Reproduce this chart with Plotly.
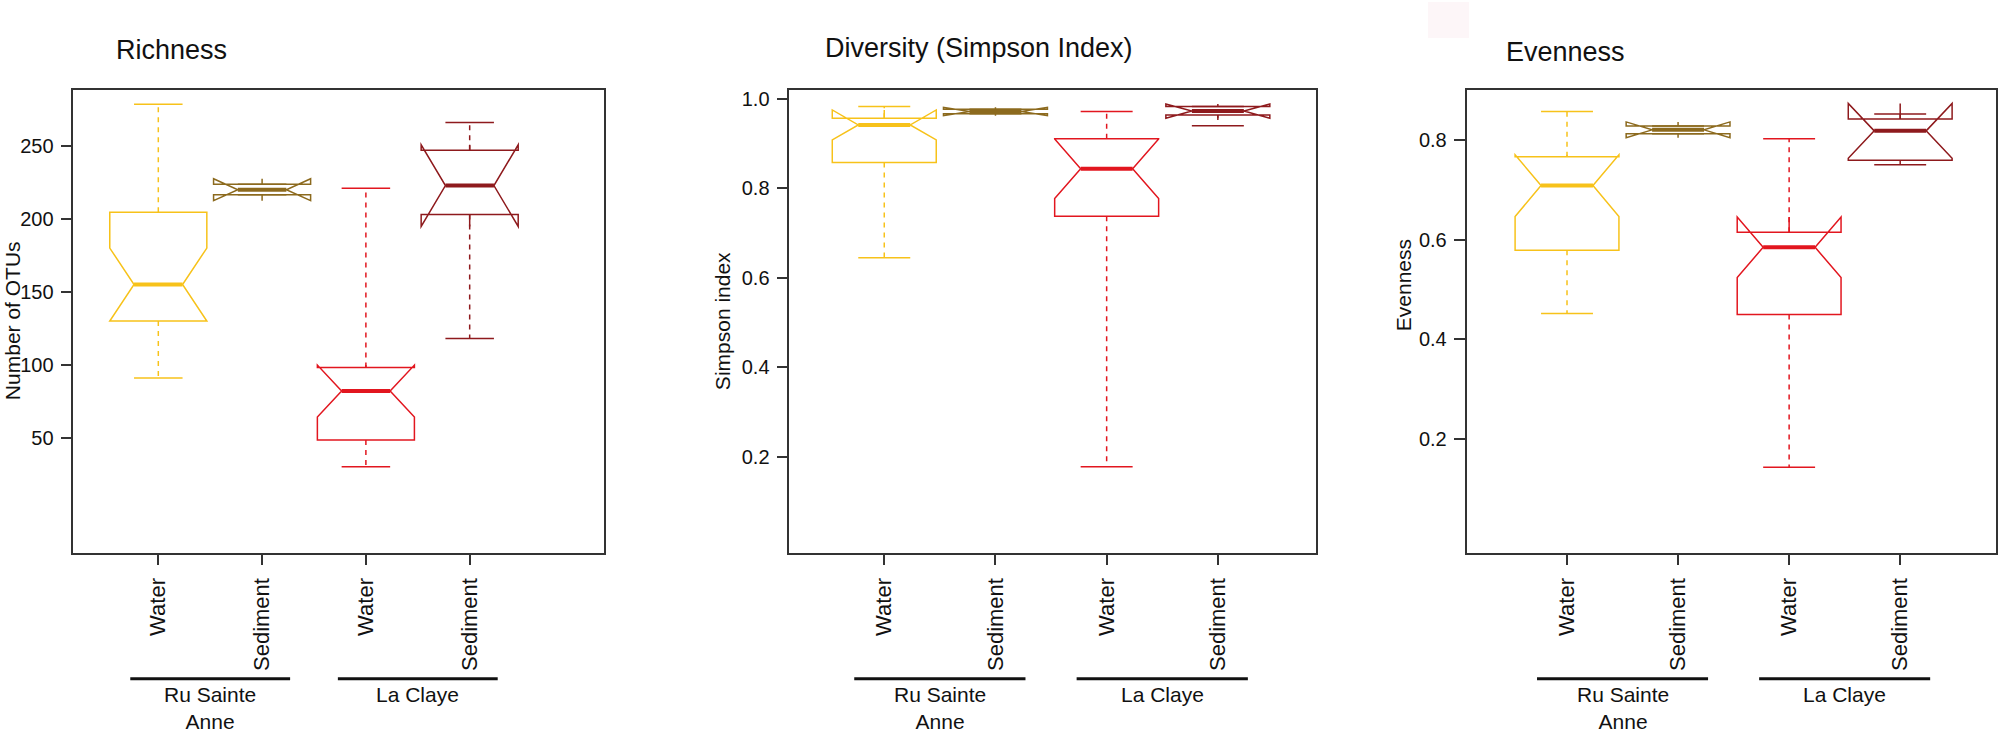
import plotly.graph_objects as go

# categories
samples = ["Water", "Sediment", "Water", "Sediment"]
sites = ["Ru Sainte<br>Anne", "La Claye"]
colors = ["#f7c21a", "#8c6a1e", "#e2161f", "#8e1a1d"]

# richness (number of OTUs)
rich_lo = [91, 216.5, 30, 118]
rich_q1 = [130, 216.5, 48.5, 203]
rich_med = [155, 220, 82, 222.8]
rich_q3 = [204.5, 223.7, 98.2, 247]
rich_hi = [278.5, 223.7, 221, 266]
rich_notch = [25, 7.5, 17.8, 28]

# diversity (simpson index)
simp_lo = [0.645, 0.967, 0.178, 0.940]
simp_q1 = [0.858, 0.967, 0.738, 0.964]
simp_med = [0.942, 0.972, 0.844, 0.973]
simp_q3 = [0.957, 0.977, 0.911, 0.983]
simp_hi = [0.983, 0.977, 0.972, 0.983]
simp_notch = [0.0335, 0.0093, 0.0665, 0.016]

# evenness
even_lo = [0.452, 0.813, 0.143, 0.751]
even_q1 = [0.579, 0.813, 0.450, 0.760]
even_med = [0.709, 0.821, 0.585, 0.819]
even_q3 = [0.767, 0.829, 0.615, 0.843]
even_hi = [0.858, 0.829, 0.803, 0.853]
even_notch = [0.062, 0.016, 0.061, 0.055]

W, H = 2002, 736
BOXW = 0.935
FONT = "Liberation Sans, Arial, sans-serif"


def px_x(v):
    return v / W


def px_y(v):
    return 1 - v / H


def add_boxes(fig, ax, lo, q1, med, q3, hi, notch):
    xa = "x" + ax
    ya = "y" + ax
    for i in range(len(samples)):
        c = colors[i]
        fig.add_trace(go.Box(
            x=[i], q1=[q1[i]], median=[med[i]], q3=[q3[i]],
            lowerfence=[q1[i]], upperfence=[q3[i]], notchspan=[notch[i]],
            notched=True, notchwidth=0.25, width=BOXW, whiskerwidth=0,
            line={"color": c, "width": 1.5}, fillcolor="rgba(0,0,0,0)",
            boxpoints=False, xaxis=xa, yaxis=ya, hoverinfo="skip"
        ))
        q = BOXW / 4
        # thick median
        fig.add_trace(go.Scatter(
            x=[i - q, i + q], y=[med[i], med[i]], mode="lines",
            line={"color": c, "width": 4}, xaxis=xa, yaxis=ya, hoverinfo="skip"
        ))
        # dashed whiskers
        fig.add_trace(go.Scatter(
            x=[i, i, None, i, i], y=[q3[i], hi[i], None, q1[i], lo[i]], mode="lines",
            line={"color": c, "width": 1.5, "dash": "5px,5px"},
            xaxis=xa, yaxis=ya, hoverinfo="skip"
        ))
        # whisker caps
        fig.add_trace(go.Scatter(
            x=[i - q, i + q, None, i - q, i + q],
            y=[hi[i], hi[i], None, lo[i], lo[i]], mode="lines",
            line={"color": c, "width": 1.5}, xaxis=xa, yaxis=ya, hoverinfo="skip"
        ))


fig = go.Figure()
add_boxes(fig, "", rich_lo, rich_q1, rich_med, rich_q3, rich_hi, rich_notch)
add_boxes(fig, "2", simp_lo, simp_q1, simp_med, simp_q3, simp_hi, simp_notch)
add_boxes(fig, "3", even_lo, even_q1, even_med, even_q3, even_hi, even_notch)

panels = [
    # axis suffix, left px, right px, x range, y range, y ticks, y fmt, title, title x, title y, ylabel, ylabel x, ylabel y
    ("", 73.3, 604.3, [-0.819, 4.297], [-28.7, 288.3], [50, 100, 150, 200, 250], "d",
     "Richness", 114, 48, "Number of OTUs", 12, 320),
    ("2", 789.3, 1315.7, [-0.854, 3.880], [-0.0138, 1.020], [0.2, 0.4, 0.6, 0.8, 1.0], ".1f",
     "Diversity (Simpson Index)", 822.7, 46, "Simpson index", 722, 320),
    ("3", 1466.5, 1995.7, [-0.905, 3.860], [-0.0285, 0.901], [0.2, 0.4, 0.6, 0.8], ".1f",
     "Evenness", 1504, 50, "Evenness", 1403, 284),
]

layout_axes = {}
annotations = []
shapes = []
for ax, left, right, xr, yr, yt, fmt, title, tx, ty, ylab, lx, ly in panels:
    layout_axes["xaxis" + ax] = dict(
        domain=[px_x(left), px_x(right)], range=xr, anchor="y" + ax,
        tickvals=list(range(len(samples))), ticktext=samples, tickangle=-90,
        ticks="outside", ticklen=11, tickwidth=1.5, tickcolor="#333",
        showline=True, linecolor="#333", linewidth=1.5, mirror=True,
        showgrid=False, zeroline=False, ticklabelstandoff=4,
        tickfont={"size": 22, "color": "#111", "family": FONT}
    )
    layout_axes["yaxis" + ax] = dict(
        domain=[px_y(552), px_y(88.3)], range=yr, anchor="x" + ax,
        tickvals=yt, tickformat=fmt,
        ticks="outside", ticklen=11, tickwidth=1.5, tickcolor="#333",
        showline=True, linecolor="#333", linewidth=1.5, mirror=True,
        showgrid=False, zeroline=False, ticklabelstandoff=3,
        tickfont={"size": 20, "color": "#111", "family": FONT}
    )
    annotations.append(dict(
        text=title, x=px_x(tx), y=px_y(ty), xref="paper", yref="paper",
        xanchor="left", yanchor="middle", showarrow=False,
        font={"size": 27, "color": "#111", "family": FONT}
    ))
    annotations.append(dict(
        text=ylab, x=px_x(lx), y=px_y(ly), xref="paper", yref="paper",
        xanchor="center", yanchor="middle", textangle=-90, showarrow=False,
        font={"size": 21, "color": "#111", "family": FONT}
    ))
    # site group lines and labels
    for g, site in enumerate(sites):
        cx = 2 * g + 0.5
        shapes.append(dict(
            type="line", xref="x" + ax, yref="paper",
            x0=cx - 0.77, x1=cx + 0.77, y0=px_y(678.7), y1=px_y(678.7),
            line={"color": "#111", "width": 3}
        ))
        annotations.append(dict(
            text=site, x=cx, y=px_y(681), xref="x" + ax, yref="paper",
            xanchor="center", yanchor="top", showarrow=False,
            font={"size": 21, "color": "#111", "family": FONT}
        ))

# faint mark at the top of the original figure
shapes.append(dict(
    type="rect", xref="paper", yref="paper", x0=px_x(1428), x1=px_x(1469),
    y0=px_y(36), y1=1, line={"width": 0}, fillcolor="#fdf6f8", layer="below"
))

fig.update_layout(
    width=W, height=H, margin={"r": 0, "t": 0, "l": 0, "b": 0},
    paper_bgcolor="white", plot_bgcolor="white", showlegend=False,
    annotations=annotations, shapes=shapes, **layout_axes
)

# drop the default page margin so the figure sits at the window corner
fig.write_html("out.html", config={"displayModeBar": False},
               post_script="document.body.style.margin = '0px';")
